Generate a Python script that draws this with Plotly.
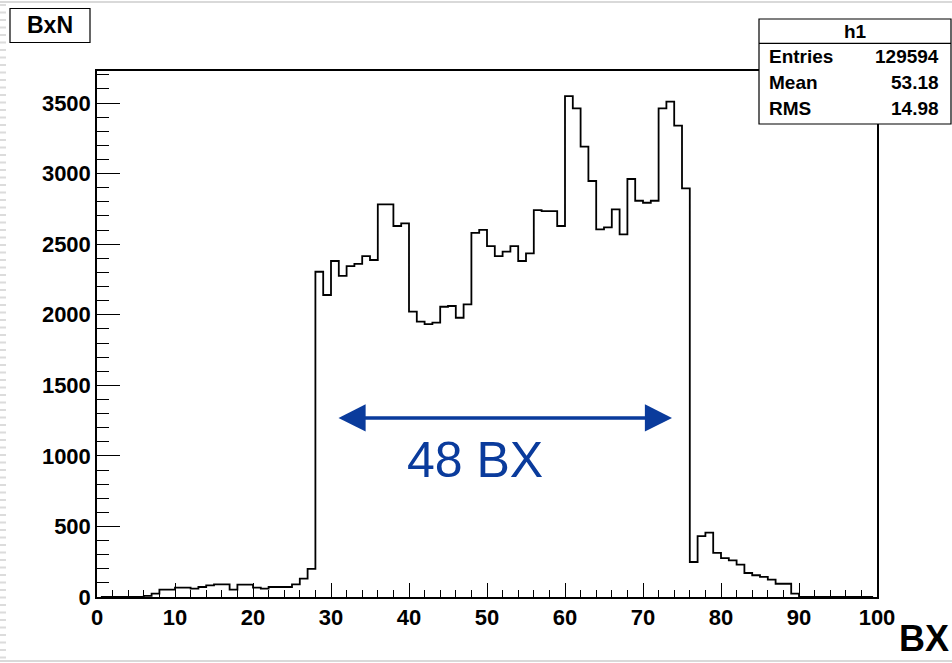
import plotly.graph_objects as go

# ---------------- data ----------------
bin_low_edges = list(range(0, 100))          # 100 bins of width 1, 0..100
counts = [
    0, 0, 0, 0, 0, 0, 8, 24, 52, 52,                       # 0-9
    66, 66, 59, 71, 83, 90, 90, 52, 87, 87,                 # 10-19
    66, 59, 71, 71, 71, 90, 130, 200, 2305, 2140,           # 20-29
    2381, 2275, 2345, 2360, 2416, 2388, 2783, 2783, 2629, 2648,  # 30-39
    2022, 1951, 1934, 1944, 2057, 2062, 1979, 2074, 2581, 2601,  # 40-49
    2487, 2416, 2447, 2487, 2381, 2435, 2742, 2735, 2735, 2629,  # 50-59
    3550, 3463, 3191, 2948, 2605, 2620, 2747, 2570, 2962, 2808,  # 60-69
    2794, 2808, 3463, 3510, 3340, 2896, 248, 432, 456, 312,      # 70-79
    276, 260, 229, 170, 154, 142, 123, 94, 94, 24,               # 80-89
    0, 0, 0, 0, 0, 0, 0, 0, 0, 0,                                # 90-99
]
x_tick_vals = [0, 10, 20, 30, 40, 50, 60, 70, 80, 90, 100]
y_tick_vals = [0, 500, 1000, 1500, 2000, 2500, 3000, 3500]
stats_names = ["Entries", "Mean", "RMS"]
stats_values = ["129594", "53.18", "14.98"]
hist_name = "h1"
title_text = "BxN"
x_title = "BX"
span_label = "48 BX"
span_start, span_end = 30.77, 73.72     # arrow extent (BX)
span_y = 1269

bin_centers = [e + 0.5 for e in bin_low_edges]
y_max = 1.05 * max(counts)

FONT = "Liberation Sans, Arial, Helvetica, sans-serif"
BLUE = "#0a3b9c"

# plot-area geometry (pixels) for positioning decorations
L, R, T, B = 97, 877, 71, 597
W, H = 952, 663


def PX(px):
    return (px - L) / (R - L)


def PY(py):
    return (B - py) / (B - T)


fig = go.Figure()
fig.add_trace(go.Scatter(
    x=bin_centers, y=counts, mode="lines",
    line=dict(color="black", width=1.8, shape="hvh"),
    hoverinfo="skip", showlegend=False,
))

shapes = []
annotations = []

# screenshot edge decorations
shapes.append(dict(type="line", xref="paper", yref="paper",
                   x0=PX(0), x1=PX(W), y0=PY(2), y1=PY(2),
                   line=dict(color="#d9d9d9", width=2), layer="above"))
shapes.append(dict(type="line", xref="paper", yref="paper",
                   x0=PX(0), x1=PX(W), y0=PY(661), y1=PY(661),
                   line=dict(color="#d9d9d9", width=2), layer="above"))
shapes.append(dict(type="line", xref="paper", yref="paper",
                   x0=PX(3), x1=PX(3), y0=PY(4), y1=PY(660),
                   line=dict(color="#dcdcdc", width=6, dash="2px,5.5px"), layer="above"))

# title box
shapes.append(dict(type="rect", xref="paper", yref="paper",
                   x0=PX(10), x1=PX(90), y0=PY(8.5), y1=PY(42.5),
                   line=dict(color="black", width=1.2), fillcolor="white", layer="above"))
annotations.append(dict(xref="paper", yref="paper", x=PX(50), y=PY(25.5),
                        text=title_text, showarrow=False, xanchor="center", yanchor="middle",
                        font=dict(family=FONT, size=23, color="black", weight="bold")))

# stats box
shapes.append(dict(type="rect", xref="paper", yref="paper",
                   x0=PX(759), x1=PX(951), y0=PY(19), y1=PY(124),
                   line=dict(color="black", width=1.2), fillcolor="white", layer="above"))
shapes.append(dict(type="line", xref="paper", yref="paper",
                   x0=PX(759), x1=PX(951), y0=PY(43.3), y1=PY(43.3),
                   line=dict(color="black", width=1.2), layer="above"))
annotations.append(dict(xref="paper", yref="paper", x=PX(855), y=PY(31),
                        text=hist_name, showarrow=False, xanchor="center", yanchor="middle",
                        font=dict(family=FONT, size=19, color="black", weight="bold")))
row_y = [56.7, 82.3, 108.3]
for name, val, ry in zip(stats_names, stats_values, row_y):
    annotations.append(dict(xref="paper", yref="paper", x=PX(767), y=PY(ry),
                            text=name, showarrow=False, xanchor="left", yanchor="middle",
                            font=dict(family=FONT, size=19, color="black", weight="bold")))
    annotations.append(dict(xref="paper", yref="paper", x=PX(941), y=PY(ry),
                            text=val, showarrow=False, xanchor="right", yanchor="middle",
                            font=dict(family=FONT, size=19, color="black", weight="bold")))

# x-axis title
annotations.append(dict(xref="paper", yref="paper", x=PX(897), y=PY(638),
                        text=x_title, showarrow=False, xanchor="left", yanchor="middle",
                        font=dict(family=FONT, size=36, color="black", weight="bold")))

# 48 BX double arrow + label
annotations.append(dict(xref="x", yref="y", axref="x", ayref="y",
                        x=span_end, y=span_y, ax=span_start, ay=span_y,
                        text="", showarrow=True, arrowside="end+start",
                        arrowhead=2, startarrowhead=2,
                        arrowsize=1.55, startarrowsize=1.55,
                        arrowwidth=3.5, arrowcolor=BLUE))
annotations.append(dict(xref="x", yref="y", x=48.5, y=971,
                        text=span_label, showarrow=False, xanchor="center", yanchor="middle",
                        font=dict(family=FONT, size=50, color=BLUE)))

fig.update_layout(
    width=W, height=H,
    margin=dict(l=L, r=W - R, t=T, b=H - B, pad=0),
    paper_bgcolor="white", plot_bgcolor="white",
    font=dict(family=FONT, color="black"),
    shapes=shapes, annotations=annotations,
    xaxis=dict(
        range=[0, 100], tickvals=x_tick_vals, showgrid=False, zeroline=False,
        showline=True, mirror=True, linecolor="black", linewidth=1.5,
        ticks="inside", ticklen=14, tickwidth=1.3, tickcolor="black",
        tickfont=dict(family=FONT, size=22, color="black", weight="bold"),
        minor=dict(dtick=2, tick0=0, ticks="inside", ticklen=7, tickwidth=1.3,
                   tickcolor="black", showgrid=False),
    ),
    yaxis=dict(
        range=[0, y_max], tickvals=y_tick_vals, showgrid=False, zeroline=False,
        showline=True, mirror=True, linecolor="black", linewidth=1.5,
        ticks="inside", ticklen=23, tickwidth=1.3, tickcolor="black",
        tickfont=dict(family=FONT, size=22, color="black", weight="bold"),
        minor=dict(dtick=100, tick0=0, ticks="inside", ticklen=12, tickwidth=1.3,
                   tickcolor="black", showgrid=False),
    ),
)

fig.write_html("out.html")
